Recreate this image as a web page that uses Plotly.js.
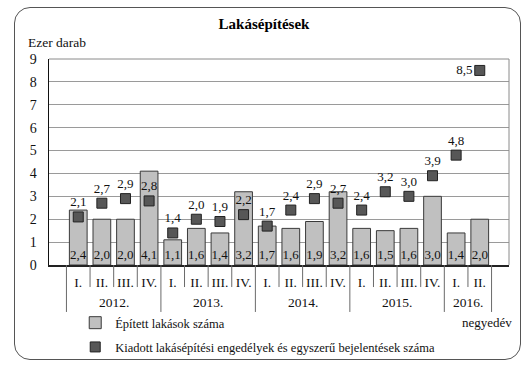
<!DOCTYPE html>
<html>
<head>
<meta charset="utf-8">
<script src="https://cdn.plot.ly/plotly-3.0.1.min.js"></script>
<style>
html,body{margin:0;padding:0;background:#fff;}
#wrap{position:relative;width:528px;height:368px;}
#chart{width:528px;height:368px;}
#frame{position:absolute;left:14px;top:7px;width:505px;height:351px;border:1.6px solid #555;border-radius:16px;pointer-events:none;}
</style>
</head>
<body>
<div id="wrap"><div id="chart"></div><div id="frame"></div></div>
<script>
const years = ['2012.', '2013.', '2014.', '2015.', '2016.'];
const quartersPerYear = [4, 4, 4, 4, 2];
const quarterLabels = ['I.', 'II.', 'III.', 'IV.'];
const built = [2.4, 2.0, 2.0, 4.1, 1.1, 1.6, 1.4, 3.2, 1.7, 1.6, 1.9, 3.2, 1.6, 1.5, 1.6, 3.0, 1.4, 2.0];
const permits = [2.1, 2.7, 2.9, 2.8, 1.4, 2.0, 1.9, 2.2, 1.7, 2.4, 2.9, 2.7, 2.4, 3.2, 3.0, 3.9, 4.8, 8.5];
const seriesNames = ['Épített lakások száma', 'Kiadott lakásépítési engedélyek és egyszerű bejelentések száma'];

const keys = [], qText = [], yearStart = [];
years.forEach((y, i) => {
  yearStart.push(keys.length);
  for (let q = 0; q < quartersPerYear[i]; q++) { keys.push(y + ' ' + quarterLabels[q]); qText.push(quarterLabels[q]); }
});
const fmt = v => v.toFixed(1).replace('.', ',');
const FONT = '"Liberation Serif", "DejaVu Serif", serif';
const SEP = '#6a6a6a';

const permitPos = permits.map((v, i) => i === permits.length - 1 ? 'middle left' : 'top center');

const traces = [
  {
    type: 'bar', name: seriesNames[0], x: keys, y: built,
    text: built.map(fmt), textposition: 'inside', insidetextanchor: 'start', constraintext: 'none', textangle: 0,
    textfont: {family: FONT, size: 13, color: '#111'},
    marker: {color: '#c0c0c0', line: {color: '#3a3a3a', width: 1}},
    hoverinfo: 'none', legendgroup: 'a'
  },
  {
    type: 'scatter', mode: 'markers+text', name: seriesNames[1], x: keys, y: permits,
    text: permits.map(fmt), textposition: permitPos,
    textfont: {family: FONT, size: 13, color: '#111'},
    marker: {symbol: 'square', size: 10, color: '#575757', line: {color: '#222', width: 1}},
    hoverinfo: 'none', cliponaxis: false, legendgroup: 'b'
  }
];

// separators below the axis: short between quarters, long between years
const shapes = [
  {type: 'line', xref: 'paper', yref: 'paper', x0: 0, x1: 1, y0: 1, y1: 1, line: {color: '#8a8a8a', width: 1}},
  {type: 'line', xref: 'paper', yref: 'paper', x0: 1, x1: 1, y0: 0, y1: 1, line: {color: '#8a8a8a', width: 1}}
];
for (let i = 0; i <= keys.length; i++) {
  const isYear = i === keys.length || yearStart.includes(i);
  shapes.push({type: 'line', xref: 'x', yref: 'paper', x0: i - 0.5, x1: i - 0.5, y0: 0, y1: isYear ? -0.228 : -0.107,
               line: {color: SEP, width: 1}});
}
const annotations = years.map((y, i) => ({
  text: y, xref: 'x', yref: 'paper', x: yearStart[i] + (quartersPerYear[i] - 1) / 2, y: -0.184,
  xanchor: 'center', yanchor: 'middle', showarrow: false, font: {family: FONT, size: 13.5, color: '#111'}
}));
annotations.push(
  {text: 'Ezer darab', xref: 'paper', yref: 'paper', x: -0.05, y: 1.078, xanchor: 'left', yanchor: 'middle', showarrow: false, font: {family: FONT, size: 13.5, color: '#111'}},
  {text: 'negyedév', xref: 'paper', yref: 'paper', x: 1.01, y: -0.277, xanchor: 'right', yanchor: 'middle', showarrow: false, font: {family: FONT, size: 13, color: '#111'}}
);

const layout = {
  width: 528, height: 368,
  margin: {l: 49, r: 19, t: 59, b: 103, autoexpand: false},
  paper_bgcolor: 'rgba(0,0,0,0)', plot_bgcolor: '#fff',
  font: {family: FONT, color: '#111', size: 13},
  title: {text: '<b>Lakásépítések</b>', x: 0.5, xanchor: 'center', y: 0.935, yanchor: 'middle', font: {family: FONT, size: 15, color: '#000'}},
  bargap: 0.25,
  showlegend: true,
  legend: {x: 0.057, xanchor: 'left', y: -0.209, yanchor: 'top', orientation: 'v',
           traceorder: 'grouped', tracegroupgap: 5,
           font: {family: FONT, size: 12.5, color: '#111'}, bgcolor: 'rgba(0,0,0,0)', itemwidth: 30},
  xaxis: {
    type: 'category', categoryorder: 'array', categoryarray: keys,
    tickmode: 'array', tickvals: keys, ticktext: qText,
    showgrid: false, zeroline: false, automargin: false,
    showline: true, linecolor: '#222', linewidth: 1.5, tickangle: 0,
    ticks: '', ticklabelstandoff: 4,
    tickfont: {family: FONT, size: 13.5, color: '#111'}
  },
  yaxis: {
    range: [0, 9], dtick: 1, showgrid: true, gridcolor: '#9a9a9a', gridwidth: 1, automargin: false,
    zeroline: false, showline: true, linecolor: '#111', linewidth: 1.5,
    ticks: '', ticklabelstandoff: 8,
    tickfont: {family: FONT, size: 14, color: '#111'}
  },
  shapes: shapes,
  annotations: annotations
};

Plotly.newPlot('chart', traces, layout, {displayModeBar: false, staticPlot: true});
</script>
</body>
</html>
